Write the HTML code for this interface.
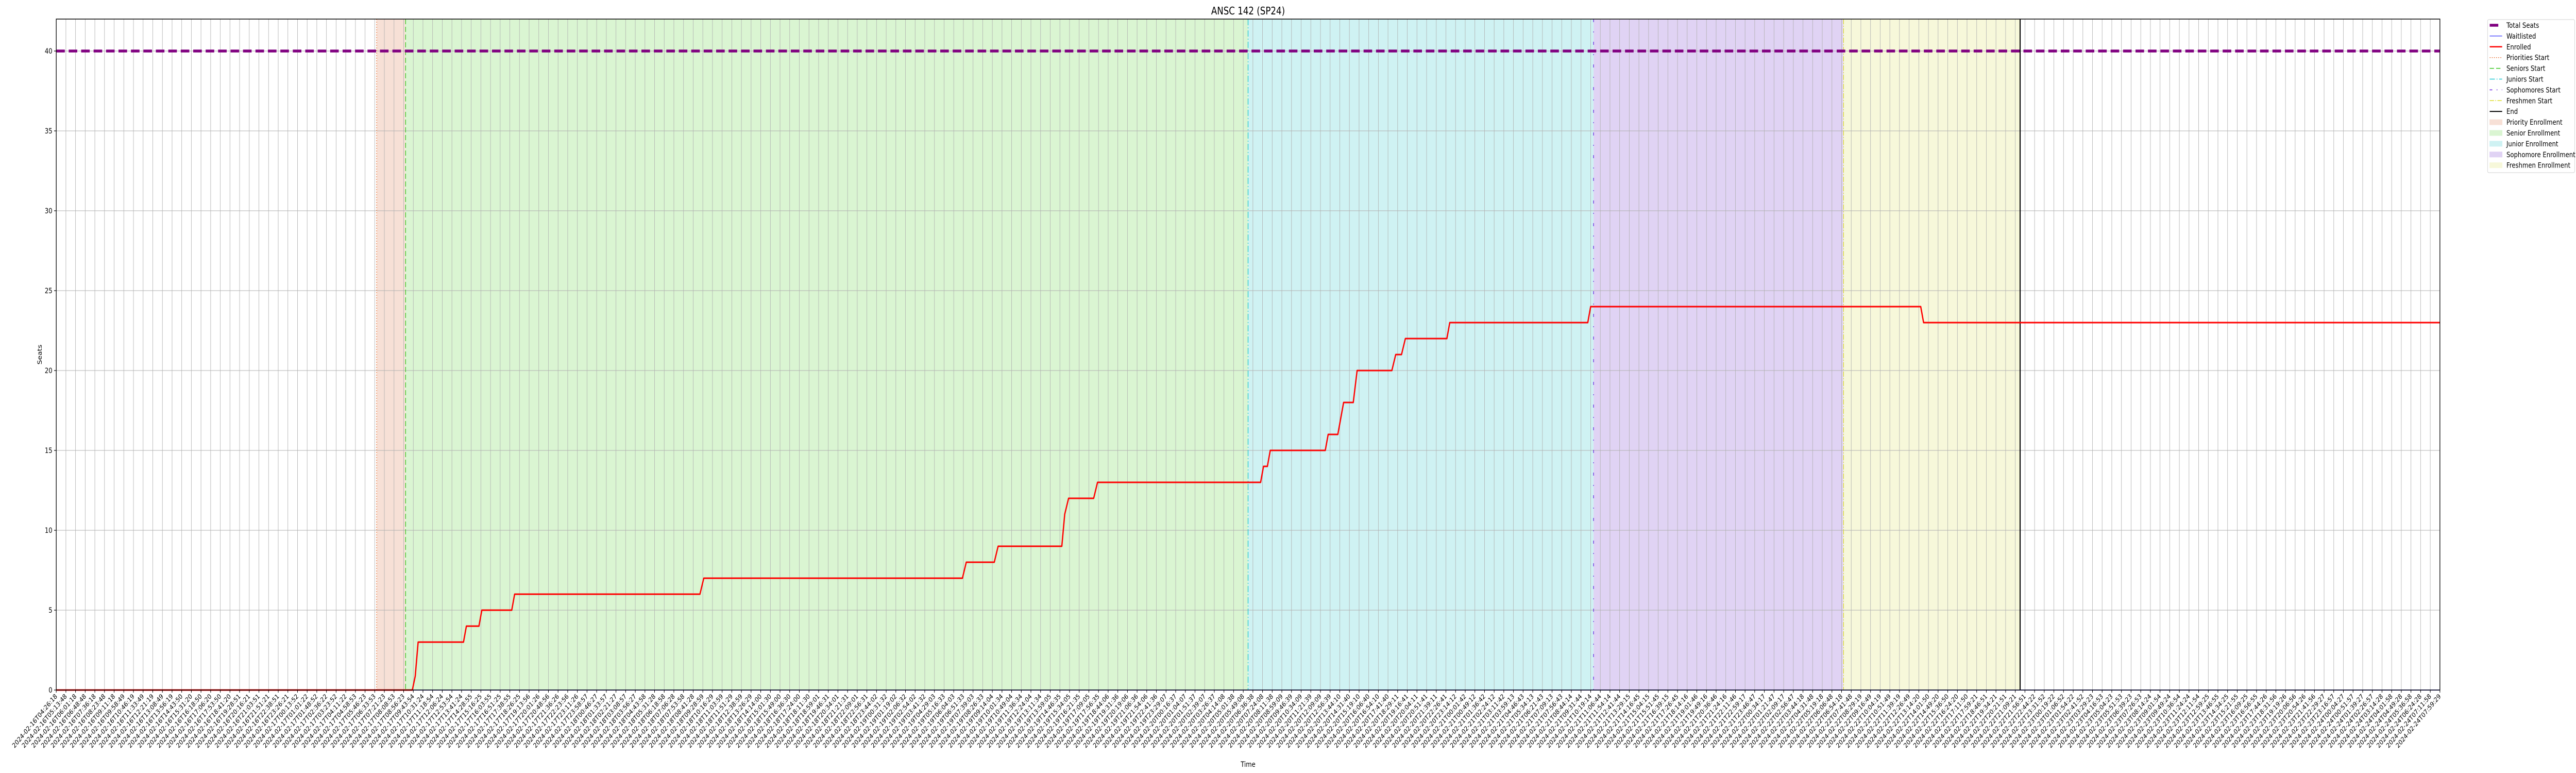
<!DOCTYPE html>
<html>
<head>
<meta charset="utf-8">
<meta name="viewport" content="width=6000, initial-scale=1">
<style>
  html, body { margin: 0; padding: 0; background: #ffffff; width: 100%; height: 100%; overflow: hidden; }
  body { font-family: "Liberation Sans", "DejaVu Sans", sans-serif; }
  #chart { display: block; width: 100vw; height: 100vh; }
  svg text { font-family: "DejaVu Sans", "Liberation Sans", sans-serif; fill: #000; }
</style>
</head>
<body>
<svg id="chart" xmlns="http://www.w3.org/2000/svg" viewBox="0 0 6000 1500" preserveAspectRatio="none">
  <g id="bands"></g>
  <g id="grid"></g>
  <g id="vlines"></g>
  <g id="series"></g>
  <g id="axes"></g>
  <text x="2907" y="28" font-size="20" text-anchor="middle">ANSC 142 (SP24)</text>
  <text x="0" y="0" font-size="14" text-anchor="middle" transform="translate(97,688) rotate(-90)">Seats</text>
  <text x="2907" y="1488" font-size="14" text-anchor="middle">Time</text>
  <g id="legend"></g>
</svg>
<script>
// ---- data ----
const startTime = "2024-02-16T04:26:18";
const endTime = "2024-02-24T07:59:29";
const tickCount = 248;
const yTicks = [0, 5, 10, 15, 20, 25, 30, 35, 40];
const totalSeats = 40;
const enrolledT = [0, 36.9, 37.2, 37.5, 42.2, 42.5, 43.8, 44.1, 47.2, 47.5, 66.7, 67.1, 93.9, 94.3, 97.2, 97.6, 104.2, 104.5, 104.9, 107.5, 107.9, 124.8, 125.1, 125.5, 125.8, 131.5, 131.8, 132.8, 133.4, 134.4, 134.8, 138.4, 138.8, 139.4, 139.8, 144.1, 144.4, 158.7, 159.0, 193.2, 193.5, 247];
const enrolledV = [0, 0, 0.87, 3, 3, 4, 4, 5, 5, 6, 6, 7, 7, 8, 8, 9, 9, 11, 12, 12, 13, 13, 14, 14, 15, 15, 16, 16, 18, 18, 20, 20, 21, 21, 22, 22, 23, 23, 24, 24, 23, 23];
const waitlistT = [0, 247];
const waitlistV = [0, 0];
const periodNames = ["Priorities Start", "Seniors Start", "Juniors Start", "Sophomores Start", "Freshmen Start", "End"];
const periodT = [33.2, 36.2, 123.5, 159.3, 185.2, 203.5];

// tick labels (timestamps at each tick)
const tickLabels = [];
(function(){
  const s = Date.parse(startTime + "Z"), e = Date.parse(endTime + "Z");
  for (let i = 0; i < tickCount; i++) {
    const d = new Date(s + (e - s) * i / (tickCount - 1));
    tickLabels.push(d.toISOString().slice(0, 19));
  }
})();

// ---- layout ----
const X0 = 131, X1 = 5683, Y0 = 1339, Y1 = 37, YMAX = 42;
const NS = "http://www.w3.org/2000/svg";
function xs(t) { return X0 + t * (X1 - X0) / (tickCount - 1); }
function ys(v) { return Y0 - v * (Y0 - Y1) / YMAX; }
function mk(tag, attrs, parent) {
  const el = document.createElementNS(NS, tag);
  for (const k in attrs) el.setAttribute(k, attrs[k]);
  parent.appendChild(el);
  return el;
}

const bands = document.getElementById('bands');
const grid = document.getElementById('grid');
const vlines = document.getElementById('vlines');
const series = document.getElementById('series');
const axes = document.getElementById('axes');
const legend = document.getElementById('legend');

// bands
const bandColors = ["#f7e0d6", "#daf5d2", "#cff2f3", "#e0d3f4", "#f7f8da"];
const bandNames = ["priority-enrollment-band", "senior-enrollment-band", "junior-enrollment-band", "sophomore-enrollment-band", "freshmen-enrollment-band"];
for (let i = 0; i < 5; i++) {
  const r = mk('rect', {x: xs(periodT[i]), y: Y1, width: xs(periodT[i+1]) - xs(periodT[i]), height: Y0 - Y1, fill: bandColors[i]}, bands);
  
  
}

// grid
for (let i = 0; i < tickCount; i++) {
  const x = xs(i);
  const l = mk('line', {x1: x, x2: x, y1: Y1, y2: Y0, stroke: "#b0b0b0", "stroke-width": 1}, grid);
  
  
}
for (const v of yTicks) {
  const y = ys(v);
  const l = mk('line', {x1: X0, x2: X1, y1: y, y2: y, stroke: "#b0b0b0", "stroke-width": 1}, grid);
  
  
}

// period lines
const vColors = ["#e8743b", "#33c41a", "#1ec8d2", "#6a24e0", "#dddd2a", "#000000"];
const vDash = ["2,3", "10,5", "12,4,2,4", "6,18,2,18", "10,3,2,3", ""];
const vWidth = [1.5, 1.5, 1.5, 1.5, 1.5, 2.5];
for (let i = 0; i < periodT.length; i++) {
  const x = xs(periodT[i]);
  const l = mk('line', {x1: x, x2: x, y1: Y1, y2: Y0, stroke: vColors[i], "stroke-width": vWidth[i]}, vlines);
  if (vDash[i]) l.setAttribute('stroke-dasharray', vDash[i]);
  
  
}

// total seats
const ts = mk('line', {x1: X0, x2: X1, y1: ys(totalSeats), y2: ys(totalSeats), stroke: "#800080", "stroke-width": 5.5, "stroke-dasharray": "20,9"}, series);



// waitlisted
let wp = waitlistT.map((t, i) => xs(t) + "," + ys(waitlistV[i])).join(" ");
const wl = mk('polyline', {points: wp, fill: "none", stroke: "#0000ff", "stroke-width": 1.5}, series);



// enrolled
let ep = enrolledT.map((t, i) => xs(t) + "," + ys(enrolledV[i])).join(" ");
const en = mk('polyline', {points: ep, fill: "none", stroke: "#ff0000", "stroke-width": 3, "stroke-linejoin": "round"}, series);



// axes frame
const frame = mk('rect', {x: X0, y: Y1, width: X1 - X0, height: Y0 - Y1, fill: "none", stroke: "#000", "stroke-width": 1.5}, axes);



for (const v of yTicks) {
  const y = ys(v);
  const t = mk('line', {x1: X0 - 5, x2: X0, y1: y, y2: y, stroke: "#000", "stroke-width": 1.2}, axes);
  
  
  const lb = mk('text', {x: X0 - 9, y: y + 5, "font-size": 14, "text-anchor": "end"}, axes);
  lb.textContent = String(v);
  
  
}
for (let i = 0; i < tickCount; i++) {
  const x = xs(i);
  const t = mk('line', {x1: x, x2: x, y1: Y0, y2: Y0 + 5, stroke: "#000", "stroke-width": 1.2}, axes);
  
  
  const lb = mk('text', {x: 0, y: 0, "font-size": 13, "text-anchor": "end", transform: "translate(" + (x + 3) + "," + (Y0 + 13) + ") rotate(-45)"}, axes);
  lb.textContent = tickLabels[i];
  
  
}

// legend
const LX = 5794, LY = 38;
const lbox = mk('rect', {x: LX, y: LY, width: 203, height: 297, rx: 3, fill: "#fff", stroke: "#d0d0d0", "stroke-width": 1}, legend);


const legendLabels = ["Total Seats", "Waitlisted", "Enrolled", "Priorities Start", "Seniors Start", "Juniors Start", "Sophomores Start", "Freshmen Start", "End", "Priority Enrollment", "Senior Enrollment", "Junior Enrollment", "Sophomore Enrollment", "Freshmen Enrollment"];
for (let i = 0; i < legendLabels.length; i++) {
  const cy = 49 + i * 20.9;
  const g = mk('g', {}, legend);
  
  
  if (i === 0) {
    mk('line', {x1: 5799, x2: 5819, y1: cy, y2: cy, stroke: "#800080", "stroke-width": 5.5}, g);
  } else if (i === 1) {
    mk('line', {x1: 5799, x2: 5828, y1: cy, y2: cy, stroke: "#0000ff", "stroke-width": 1}, g);
  } else if (i === 2) {
    mk('line', {x1: 5799, x2: 5828, y1: cy, y2: cy, stroke: "#ff0000", "stroke-width": 2.5}, g);
  } else if (i <= 8) {
    const k = i - 3;
    const l = mk('line', {x1: 5799, x2: 5828, y1: cy, y2: cy, stroke: vColors[k], "stroke-width": k === 5 ? 2 : 1.5}, g);
    if (vDash[k]) l.setAttribute('stroke-dasharray', k === 3 ? "6,10,2,10" : vDash[k]);
  } else {
    mk('rect', {x: 5799, y: cy - 5, width: 29, height: 10, fill: bandColors[i - 9], stroke: bandColors[i - 9]}, g);
  }
  const tx = mk('text', {x: 5838, y: cy + 5, "font-size": 14}, g);
  tx.textContent = legendLabels[i];
}
</script>
</body>
</html>
